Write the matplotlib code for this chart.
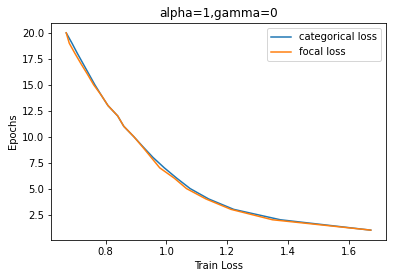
import matplotlib
matplotlib.use("Agg")
import matplotlib.pyplot as plt

epochs = [20, 19, 18, 17, 16, 15, 14, 13, 12, 11, 10, 9, 8, 7, 6, 5, 4, 3, 2, 1]
categorical_loss = [0.671, 0.690, 0.708, 0.727, 0.746, 0.765, 0.786, 0.808, 0.840, 0.860,
                    0.893, 0.924, 0.956, 0.993, 1.034, 1.078, 1.139, 1.221, 1.374, 1.671]
focal_loss = [0.671, 0.681, 0.700, 0.720, 0.741, 0.761, 0.786, 0.808, 0.840, 0.860,
              0.893, 0.922, 0.950, 0.978, 1.026, 1.066, 1.130, 1.212, 1.348, 1.671]

fig = plt.figure(figsize=(396/72, 278/72), dpi=72)
ax = fig.add_axes([51/396, 1-240/278, (386-51)/396, (240-23)/278])
ax.plot(categorical_loss, epochs, label="categorical loss")
ax.plot(focal_loss, epochs, label="focal loss")
ax.set_title("alpha=1,gamma=0")
ax.set_xlabel("Train Loss")
ax.set_ylabel("Epochs")
ax.legend()
fig.savefig("out.png", dpi=72)
